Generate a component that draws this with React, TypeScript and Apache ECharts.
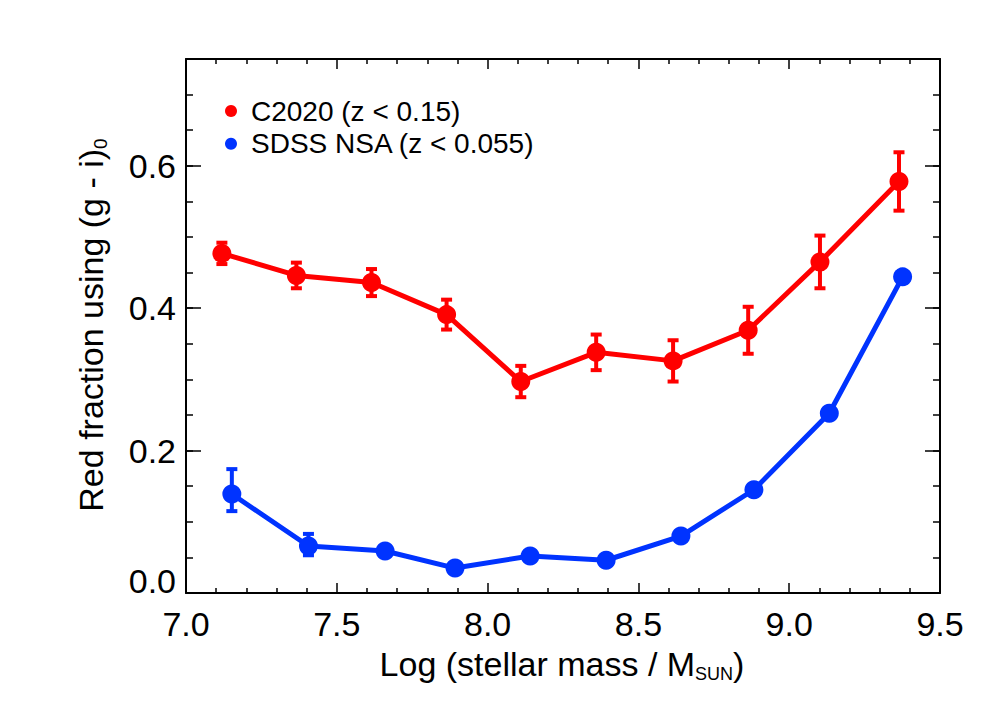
import React, { useEffect, useRef } from "react";
import * as echarts from "echarts";

const FONT = "'Liberation Sans', Arial, Helvetica, sans-serif";

const redX = [7.119, 7.366, 7.615, 7.864, 8.11, 8.36, 8.615, 8.864, 9.102, 9.364];
const redY = [0.477, 0.446, 0.436, 0.391, 0.297, 0.338, 0.326, 0.369, 0.465, 0.578];
const redErr = [0.015, 0.018, 0.019, 0.021, 0.022, 0.025, 0.029, 0.033, 0.037, 0.041];

const blueX = [7.152, 7.406, 7.66, 7.892, 8.141, 8.393, 8.641, 8.883, 9.133, 9.376];
const blueY = [0.139, 0.066, 0.059, 0.035, 0.052, 0.046, 0.08, 0.145, 0.2525, 0.444];
const blueErrUp = [0.035, 0.017, 0.006, 0.004, 0.004, 0.004, 0.005, 0.006, 0.007, 0.008];
const blueErrDown = [0.024, 0.013, 0.006, 0.004, 0.004, 0.004, 0.005, 0.006, 0.007, 0.008];

const xTickLabels = ["7.0", "7.5", "8.0", "8.5", "9.0", "9.5"];
const RED = "#ff0000";
const BLUE = "#0033ff";

function errorSeries(name: string, xs: number[], ys: number[], up: number[], down: number[], color: string) {
  const data = xs.map((x, i) => [x, ys[i] - down[i], ys[i] + up[i]]);
  return {
    type: "custom",
    name: name + " err",
    xAxisIndex: 0,
    yAxisIndex: 0,
    silent: true,
    z: 3,
    data,
    renderItem: (params: any, api: any) => {
      const x = api.value(0);
      const lo = api.coord([x, api.value(1)]);
      const hi = api.coord([x, api.value(2)]);
      const cw = 5.5;
      const st = { stroke: color, lineWidth: 4 };
      return {
        type: "group",
        children: [
          { type: "line", shape: { x1: lo[0], y1: lo[1], x2: hi[0], y2: hi[1] }, style: st },
          { type: "line", shape: { x1: lo[0] - cw, y1: lo[1], x2: lo[0] + cw, y2: lo[1] }, style: st },
          { type: "line", shape: { x1: hi[0] - cw, y1: hi[1], x2: hi[0] + cw, y2: hi[1] }, style: st },
        ],
      };
    },
  };
}

export default function App() {
  const ref = useRef<HTMLDivElement>(null);
  useEffect(() => {
    if (!ref.current) return;
    const chart = echarts.init(ref.current, null, { renderer: "svg" });
    const lineC = { color: "#000", width: 2 };
    const tickC = { color: "#000", width: 1.5 };
    const xBase = (pos: string, showLabel: boolean) => ({
      type: "value",
      position: pos,
      min: 7,
      max: 9.5,
      interval: 0.5,
      axisLine: { show: true, onZero: false, lineStyle: lineC },
      axisTick: { show: true, inside: true, length: 10, lineStyle: tickC },
      minorTick: { show: true, splitNumber: 5, length: 5, lineStyle: tickC },
      splitLine: { show: false },
      axisLabel: {
        show: showLabel,
        margin: 14,
        fontSize: 34,
        color: "#000",
        fontFamily: FONT,
        formatter: (v: number) => xTickLabels[Math.round((v - 7) / 0.5)] ?? v.toFixed(1),
      },
    });
    const yBase = (pos: string, major: boolean, showLabel: boolean) => ({
      type: "value",
      position: pos,
      min: 0,
      max: 0.75,
      interval: major ? 0.2 : 0.05,
      axisLine: { show: major, onZero: false, lineStyle: lineC },
      axisTick: { show: true, inside: true, length: major ? 15 : 7, lineStyle: tickC },
      splitLine: { show: false },
      axisLabel: {
        show: showLabel,
        margin: 10,
        fontSize: 34,
        color: "#000",
        fontFamily: FONT,
        showMaxLabel: false,
        formatter: (v: number) => (Math.abs(v) < 1e-9 ? "{z|0.0}" : v.toFixed(1)),
        rich: {
          z: { fontSize: 34, fontFamily: FONT, color: "#000", padding: [0, 0, 24, 0] },
        },
      },
    });

    chart.setOption({
      animation: false,
      backgroundColor: "#fff",
      grid: { left: 186, top: 59, width: 754, height: 534, containLabel: false },
      xAxis: [xBase("bottom", true), xBase("top", false)],
      yAxis: [yBase("left", true, true), yBase("left", false, false), yBase("right", true, false), yBase("right", false, false)],
      legend: {
        orient: "vertical",
        left: 220,
        top: 92,
        icon: "circle",
        itemWidth: 12,
        itemHeight: 12,
        itemGap: 4.7,
        data: ["C2020 (z < 0.15)", "SDSS NSA (z < 0.055)"],
        textStyle: { fontSize: 28, fontFamily: FONT, color: "#000", lineHeight: 24, padding: [0, 0, 0, 9] },
      },
      series: [
        errorSeries("C2020 (z < 0.15)", redX, redY, redErr, redErr, RED),
        errorSeries("SDSS NSA (z < 0.055)", blueX, blueY, blueErrUp, blueErrDown, BLUE),
        {
          type: "line",
          name: "C2020 (z < 0.15)",
          data: redX.map((x, i) => [x, redY[i]]),
          color: RED,
          symbol: "circle",
          symbolSize: 19,
          lineStyle: { width: 5, color: RED },
          itemStyle: { color: RED },
          z: 4,
        },
        {
          type: "line",
          name: "SDSS NSA (z < 0.055)",
          data: blueX.map((x, i) => [x, blueY[i]]),
          color: BLUE,
          symbol: "circle",
          symbolSize: 19,
          lineStyle: { width: 5, color: BLUE },
          itemStyle: { color: BLUE },
          z: 4,
        },
      ],
      graphic: [
        {
          type: "text",
          x: 562,
          y: 664,
          style: {
            text: "{a|Log (stellar mass / M}{s|SUN}{a|)}",
            textAlign: "center",
            textVerticalAlign: "middle",
            rich: {
              a: { fontSize: 34, fontFamily: FONT, fill: "#000", lineHeight: 38 },
              s: { fontSize: 18, fontFamily: FONT, fill: "#000", lineHeight: 24, verticalAlign: "bottom" },
            },
          },
        },
        {
          type: "text",
          x: 91,
          y: 325,
          rotation: Math.PI / 2,
          style: {
            text: "{a|Red fraction using (g - i)}{s|0}",
            textAlign: "center",
            textVerticalAlign: "middle",
            rich: {
              a: { fontSize: 34, fontFamily: FONT, fill: "#000", lineHeight: 38 },
              s: { fontSize: 19, fontFamily: FONT, fill: "#000", lineHeight: 20, verticalAlign: "bottom" },
            },
          },
        },
      ],
    });
    return () => chart.dispose();
  }, []);
  return <div ref={ref} style={{ width: 996, height: 712, position: "absolute", left: 0, top: 0 }} />;
}
